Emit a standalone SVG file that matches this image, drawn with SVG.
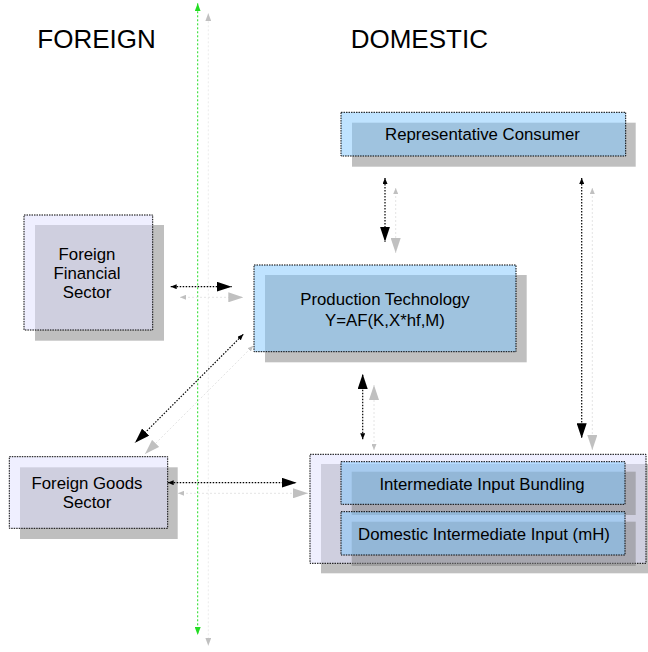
<svg xmlns="http://www.w3.org/2000/svg" width="648" height="652" viewBox="0 0 648 652">
<defs>
<style>
text{font-family:"Liberation Sans",Arial,sans-serif;fill:#000}
.lbl{font-size:16.8px;text-anchor:middle}
.hd{font-size:26px}
.sh{fill:#808080;fill-opacity:.5}
.fb{fill:#80c8ff;fill-opacity:.5;stroke:#000;stroke-width:1;stroke-dasharray:1.5,1}
.fl{fill:#e0e0ff;fill-opacity:.5;stroke:#000;stroke-width:1;stroke-dasharray:1.5,1}
.c{fill:none;stroke:#000;stroke-width:1.2;stroke-dasharray:1.5,1.5;marker-start:url(#sK);marker-end:url(#bK)}
.g{fill:none;stroke:#e4e4e4;stroke-width:1;stroke-dasharray:2,2;marker-start:url(#sG);marker-end:url(#bG)}
.gr{fill:none;stroke:#22dd22;stroke-width:1;stroke-dasharray:2,2;marker-start:url(#aGr);marker-end:url(#aGr)}
.gr2{fill:none;stroke:#ececec;stroke-width:1;stroke-dasharray:2,2;marker-start:url(#aGs);marker-end:url(#aGs)}
</style>
<marker id="bK" markerUnits="userSpaceOnUse" markerWidth="15" markerHeight="10" refX="15" refY="5" orient="auto-start-reverse"><path d="M0,0 L15,5 L0,10 Z" fill="#000"/></marker>
<marker id="sK" markerUnits="userSpaceOnUse" markerWidth="6" markerHeight="5" refX="6" refY="2.5" orient="auto-start-reverse"><path d="M0,0 L6,2.5 L0,5 Z" fill="#000"/></marker>
<marker id="bG" markerUnits="userSpaceOnUse" markerWidth="15" markerHeight="10" refX="15" refY="5" orient="auto-start-reverse"><path d="M0,0 L15,5 L0,10 Z" fill="#c0c0c0"/></marker>
<marker id="sG" markerUnits="userSpaceOnUse" markerWidth="6" markerHeight="5" refX="6" refY="2.5" orient="auto-start-reverse"><path d="M0,0 L6,2.5 L0,5 Z" fill="#c0c0c0"/></marker>
<marker id="aGr" markerUnits="userSpaceOnUse" markerWidth="8" markerHeight="6" refX="8" refY="3" orient="auto-start-reverse"><path d="M0,0 L8,3 L0,6 Z" fill="#22dd22"/></marker>
<marker id="aGs" markerUnits="userSpaceOnUse" markerWidth="8" markerHeight="6" refX="8" refY="3" orient="auto-start-reverse"><path d="M0,0 L8,3 L0,6 Z" fill="#c0c0c0"/></marker>
</defs>
<rect width="648" height="652" fill="#fff"/>

<g id="headings">
<text class="hd" x="37.3" y="48.3">FOREIGN</text>
<text class="hd" x="350.7" y="48.3">DOMESTIC</text>
</g>

<g id="divider">
<line class="gr2" x1="208.3" y1="13.3" x2="208.3" y2="645.7"/>
<line class="gr" x1="197.7" y1="3.3" x2="197.7" y2="635"/>
</g>

<g id="consumer">
<rect class="sh" x="352" y="122.7" width="283.7" height="44"/>
<rect class="fb" x="341" y="112.3" width="284.7" height="43.7"/>
<text class="lbl" x="482.5" y="140">Representative Consumer</text>
</g>

<g id="foreign-financial">
<rect class="sh" x="35" y="225" width="129" height="115.7"/>
<rect class="fl" x="24" y="215" width="128.7" height="115"/>
<text class="lbl" x="87" y="260">Foreign</text>
<text class="lbl" x="87" y="279">Financial</text>
<text class="lbl" x="87" y="298.3">Sector</text>
</g>

<g id="production">
<rect class="sh" x="265" y="275" width="261.7" height="87.3"/>
<rect class="fb" x="254" y="265" width="262" height="86.7"/>
<text class="lbl" x="385" y="305">Production Technology</text>
<text class="lbl" x="385" y="326">Y=AF(K,X*hf,M)</text>
</g>

<g id="foreign-goods">
<rect class="sh" x="20" y="467.3" width="157.7" height="71.7"/>
<rect class="fl" x="9.3" y="456.7" width="158.4" height="71.6"/>
<text class="lbl" x="87" y="489">Foreign Goods</text>
<text class="lbl" x="87" y="508.3">Sector</text>
</g>

<g id="domestic-intermediate">
<rect class="sh" x="321" y="464" width="330" height="109.3"/>
<rect class="fl" x="310" y="454.3" width="336" height="109"/>
<g id="bundling">
<rect class="sh" x="351.7" y="471.7" width="284" height="43.3"/>
<rect class="fb" x="341" y="461.7" width="284" height="42.6"/>
<text class="lbl" x="482" y="490">Intermediate Input Bundling</text>
</g>
<g id="domestic-input">
<rect class="sh" x="351.7" y="521.7" width="284" height="44.3"/>
<rect class="fb" x="341" y="511.7" width="284" height="43.3"/>
<text class="lbl" x="484" y="540">Domestic Intermediate Input (mH)</text>
</g>
</g>

<g id="connectors">
<path class="g" d="M180,297.3 L243.3,297.3"/>
<path class="c" d="M170.7,286.7 L231.7,286.7"/>
<path class="g" d="M178,493.3 L308,493.3"/>
<path class="c" d="M167.7,482.7 L296.7,482.7"/>
<path class="g" d="M253.3,345.7 L145,454"/>
<path class="c" d="M243.3,334.3 L135,442.7"/>
<path class="g" d="M395.7,188 L395.7,253"/>
<path class="c" d="M385,178 L385,241.7"/>
<path class="g" d="M592.3,188 L592.3,450"/>
<path class="c" d="M581.7,178 L581.7,438.3"/>
<path class="g" d="M374,450 L374,385"/>
<path class="c" d="M362.7,439.3 L362.7,374"/>
</g>
</svg>
